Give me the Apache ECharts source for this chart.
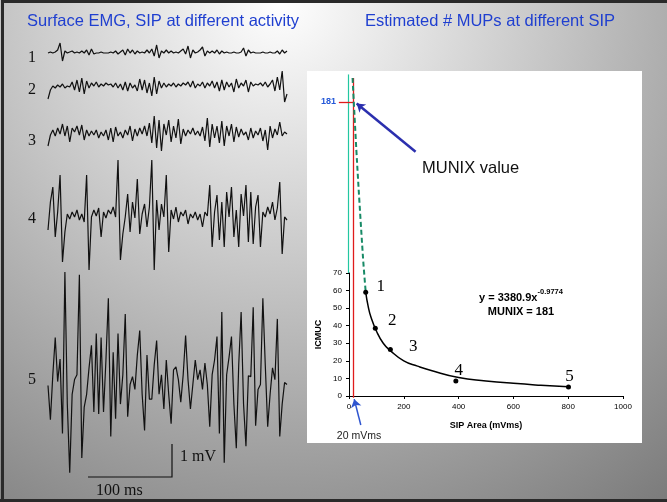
<!DOCTYPE html>
<html>
<head>
<meta charset="utf-8">
<script src="https://cdn.jsdelivr.net/npm/echarts@6.0.0/dist/echarts.min.js"></script>
<style>
  html, body { margin: 0; padding: 0; }
  #main { width: 667px; height: 502px; }
</style>
</head>
<body>
<div id="main"></div>
<script>
// MUNIX chart: SIP area (mVms) vs ICMUC
const sipArea = [61, 96, 151, 390, 801]
const icmuc = [59, 38.5, 26.4, 8.5, 5.1]
const pointNames = ['1', '2', '3', '4', '5']

// power trend line
const fitX = [61, 70, 80, 100, 125, 150, 200, 250, 300, 400, 500, 600, 700, 800]
const fitY = [59, 51, 45, 37, 30, 26, 20, 17, 14.5, 10.5, 8.6, 7.2, 6.1, 5.2]

// dashed extrapolation to 20 mVms
const extX = [13, 29, 51, 61]
const extY = [181, 134, 79, 59]

const xTicks = [0, 200, 400, 600, 800, 1000]
const yTicks = [0, 10, 20, 30, 40, 50, 60, 70]

// surface EMG traces, 100 samples each (deflection, 1 unit ~ 0.03 mV)
const trace1 = [0, 1, 0, 1, 3, 10, -8, 2, 0, 1, 2, 0, 1, 0, 2, 0, 3, -2, 4, -1, 0, 0, 1, 0, 0, 0, 1, 0, 2, -1,
  1, 3, -2, 4, 0, 3, -1, 2, 0, 1, 0, 3, 0, 4, -3, 8, -5, 2, 0, 3, 0, 2, 0, 1, 0, 2, 4, -1, 7, -5,
  3, 0, 1, 3, 6, -3, 2, 0, 2, 0, 3, -1, 2, 0, 1, 0, 0, 1, 0, 0, 1, 5, -3, 3, 0, 1, 0, 0, 0, 1,
  0, 0, 1, 0, 0, 2, -1, 3, 0, 2]
const trace2 = [-11, -2, 2, 0, 3, 1, 4, 0, 2, 1, 6, -2, 8, -4, 10, -6, 7, 0, 5, 2, 6, 1, 4, 2, 5, 3, 4, 1, 5, 0,
  4, -2, 6, -3, 5, 0, 3, -3, 9, -2, 8, -5, 5, -8, 11, -6, 7, 0, 5, 1, 4, 2, 5, 1, 4, 2, 5, 3, 6, 1,
  7, 0, 4, 2, 6, 0, 5, 2, 7, 0, 6, -3, 8, -2, 6, 1, 5, -4, 9, 0, 5, 2, 8, -4, 6, 2, 4, 3, 5, 2,
  6, 1, 4, 8, -3, 11, -2, 17, -14, -6]
const trace3 = [-8, 3, 8, 2, 10, 4, 14, 2, 12, -4, 10, 6, 12, 3, 13, -2, 8, 2, 7, 3, 8, 0, 6, 2, 8, -2, 10, -4, 11, 2,
  6, 0, 8, 3, 12, -3, 9, 2, 10, 4, 12, 2, 15, -5, 22, -10, 18, -13, 14, 3, 18, -4, 12, 0, 19, -6, 9, 2, 8, 4,
  10, 3, 7, 2, 11, -3, 20, -9, 14, 0, 12, -5, 17, -8, 12, 2, 14, -4, 11, 1, 9, 3, 6, -2, 10, 0, 7, 3, 10, -3,
  8, -12, 12, 0, 9, 3, 16, 2, 6, 4]
const trace4 = [-8, 20, 35, -15, 10, 47, -40, -10, 8, 3, 10, 5, 12, 2, 8, 0, 47, -48, 5, 12,
  6, 14, -15, 10, 4, 12, 8, 15, 5, 62, -38, -12, 5, 28, -10, 20, 4, 43, -12, 8,
  18, -5, 15, 62, -48, 22, -8, 18, 5, 47, -30, 12, 3, 15, 0, 10, 6, 12, -2, 8,
  4, 10, 2, 8, -5, 10, 6, 37, -25, 10, 27, -18, 20, -25, 30, 5, 35, -15, 12, -25,
  28, 6, 37, -20, 30, -22, 15, 27, -25, 10, 5, 15, 8, 20, 2, 14, 40, -32, 5, 2]
const trace5 = [-1, -36, 10, 48, 3, 26, -50, 115, -20, -90, -10, 5, 10, 112, -75, -23, -10, 17, 40, -28,
  52, -30, 48, -28, 25, 88, -53, 33, -35, 52, -20, 10, 72, -33, 0, 8, -5, 30, 55, -10,
  -47, 30, -15, -15, 20, 45, -10, 10, -25, 25, -10, -40, 15, 18, 5, -18, 10, 50, 5, -25,
  0, 25, 5, 15, -5, 22, 0, -43, 10, 25, 49, -50, 74, -80, 10, 28, 49, -20, -65, 20,
  74, -20, -63, 9, 8, 79, -42, -5, 0, 88, 20, -43, -10, 17, 5, 67, -53, -20, 2, 0]
const traces = [trace1, trace2, trace3, trace4, trace5]
const traceNames = ['1', '2', '3', '4', '5']

// layout (pixels)
const traceBase = [53, 88, 138, 222, 387]
const traceHalf = [20, 25, 30, 70, 120]
const traceLabelY = [58, 90, 141, 219, 380]
const labelOffsets = [[15, -6], [17, -8], [23, -3], [3, -11], [1, -11]]

const sans = '"Liberation Sans", Arial, sans-serif'
const serif = '"Liberation Serif", "Times New Roman", serif'

const chart = echarts.init(document.getElementById('main'), null, { renderer: 'canvas' })

const grids = [{ left: 349, top: 273, width: 274, height: 123 }]
const xAxes = [{
  gridIndex: 0,
  type: 'value',
  min: xTicks[0],
  max: xTicks[xTicks.length - 1],
  interval: xTicks[1] - xTicks[0],
  axisLine: { lineStyle: { color: '#000', width: 1 } },
  axisTick: { show: true, length: 3, lineStyle: { color: '#000' } },
  axisLabel: { fontSize: 8, color: '#000', margin: 7, fontFamily: sans, formatter: v => String(v) },
  splitLine: { show: false },
  name: 'SIP Area (mVms)',
  nameLocation: 'middle',
  nameGap: 25,
  nameTextStyle: { fontSize: 9, fontWeight: 'bold', color: '#000', fontFamily: sans }
}]
const yAxes = [{
  gridIndex: 0,
  type: 'value',
  min: yTicks[0],
  max: yTicks[yTicks.length - 1],
  interval: yTicks[1] - yTicks[0],
  axisLine: { show: true, lineStyle: { color: '#000', width: 1 } },
  axisTick: { show: true, length: 3, lineStyle: { color: '#000' } },
  axisLabel: { fontSize: 8, color: '#000', margin: 7, fontFamily: sans },
  splitLine: { show: false },
  name: 'ICMUC',
  nameLocation: 'middle',
  nameGap: 26,
  nameTextStyle: { fontSize: 9, fontWeight: 'bold', color: '#000', fontFamily: sans }
}]

const series = [
  {
    type: 'line',
    xAxisIndex: 0,
    yAxisIndex: 0,
    data: fitX.map((x, i) => [x, fitY[i]]),
    smooth: true,
    symbol: 'none',
    lineStyle: { color: '#000', width: 1.5 },
    z: 3
  },
  {
    type: 'line',
    xAxisIndex: 0,
    yAxisIndex: 0,
    data: extX.map((x, i) => [x, extY[i]]),
    smooth: 0.3,
    symbol: 'none',
    clip: false,
    lineStyle: { color: '#178a66', width: 2, type: [5, 3] },
    z: 3
  },
  {
    type: 'scatter',
    xAxisIndex: 0,
    yAxisIndex: 0,
    symbolSize: 5,
    itemStyle: { color: '#000', opacity: 1 },
    data: sipArea.map((x, i) => ({
      value: [x, icmuc[i]],
      name: pointNames[i],
      label: { offset: labelOffsets[i] }
    })),
    label: {
      show: true,
      position: 'inside',
      formatter: '{b}',
      fontFamily: serif,
      fontSize: 17,
      color: '#000'
    },
    z: 4
  },
  // annotation segments: teal axis extension, red 20 mVms marker and tick
  {
    type: 'lines',
    coordinateSystem: 'cartesian2d',
    xAxisIndex: 0,
    yAxisIndex: 0,
    clip: false,
    symbol: 'none',
    data: [
      { coords: [[-2, 70], [-2, 183]], lineStyle: { color: '#22c7a0', width: 1.2, opacity: 1 } },
      { coords: [[15, -1], [15, 181]], lineStyle: { color: '#e01b1b', width: 1.3, opacity: 1 } },
      { coords: [[-37, 167], [15, 167]], lineStyle: { color: '#e01b1b', width: 1.3, opacity: 1 } }
    ],
    z: 2
  },
  {
    type: 'lines',
    coordinateSystem: 'cartesian2d',
    xAxisIndex: 0,
    yAxisIndex: 0,
    clip: false,
    symbol: ['none', 'arrow'],
    symbolSize: 8,
    data: [
      { coords: [[243, 139], [28, 166.5]], lineStyle: { color: '#2b2fae', width: 2.5, opacity: 1 } },
      { coords: [[43, -16.5], [19, -1.8]], lineStyle: { color: '#2f55cf', width: 1.5, opacity: 1 } }
    ],
    z: 5
  }
]

traces.forEach((tr, k) => {
  const idx = k + 1
  grids.push({ left: 48, width: 239, top: traceBase[k] - traceHalf[k], height: traceHalf[k] * 2 })
  xAxes.push({ gridIndex: idx, type: 'value', min: 0, max: tr.length - 1, show: false })
  yAxes.push({ gridIndex: idx, type: 'value', min: -traceHalf[k], max: traceHalf[k], show: false })
  series.push({
    type: 'line',
    xAxisIndex: idx,
    yAxisIndex: idx,
    data: tr.map((v, i) => [i, v]),
    symbol: 'none',
    clip: false,
    lineStyle: { color: '#111', width: 1.2 }
  })
})

const graphics = [
  {
    type: 'rect',
    z: -20,
    shape: { x: 0, y: 0, width: 667, height: 502 },
    style: {
      fill: {
        type: 'radial', x: 0.42, y: 0.0, r: 1.26,
        colorStops: [{ offset: 0, color: '#ffffff' }, { offset: 1, color: '#7b7b7b' }]
      }
    }
  },
  { type: 'rect', z: -10, shape: { x: 307, y: 71, width: 335, height: 372 }, style: { fill: '#ffffff' } },
  { type: 'polyline', z: 10, shape: { points: [[2.5, 502], [2.5, 1.5], [667, 1.5]] }, style: { stroke: '#2a2a2a', lineWidth: 3, fill: null } },
  { type: 'line', z: 10, shape: { x1: 0, y1: 500.5, x2: 667, y2: 500.5 }, style: { stroke: '#2a2a2a', lineWidth: 3 } },
  { type: 'text', z: 10, style: { text: 'Surface EMG, SIP at different activity', x: 27, y: 21, textVerticalAlign: 'middle', font: '16.5px ' + sans, fill: '#1f3fd0' } },
  { type: 'text', z: 10, style: { text: 'Estimated # MUPs at different SIP', x: 365, y: 21, textVerticalAlign: 'middle', font: '16.5px ' + sans, fill: '#1f3fd0' } },
  // scale bar
  { type: 'polyline', z: 10, shape: { points: [[88, 477], [172, 477], [172, 444]] }, style: { stroke: '#111', lineWidth: 1.2, fill: null } },
  { type: 'text', z: 10, style: { text: '1 mV', x: 180, y: 457, textVerticalAlign: 'middle', font: '16px ' + serif, fill: '#111' } },
  { type: 'text', z: 10, style: { text: '100 ms', x: 96, y: 491, textVerticalAlign: 'middle', font: '16px ' + serif, fill: '#111' } },
  // chart annotations
  { type: 'text', z: 10, style: { text: '181', x: 336, y: 102, textAlign: 'right', textVerticalAlign: 'middle', font: 'bold 9px ' + sans, fill: '#2458d8' } },
  { type: 'text', z: 10, style: { text: 'MUNIX value', x: 422, y: 168, textVerticalAlign: 'middle', font: '16.5px ' + sans, fill: '#111' } },
  { type: 'text', z: 10, style: { text: '20 mVms', x: 359, y: 436, textAlign: 'center', textVerticalAlign: 'middle', font: '10.5px ' + sans, fill: '#222' } },
  { type: 'text', z: 10, style: { text: 'y = 3380.9x', x: 479, y: 298, textVerticalAlign: 'middle', font: 'bold 11px ' + sans, fill: '#000' } },
  { type: 'text', z: 10, style: { text: '-0.9774', x: 537.5, y: 292, textVerticalAlign: 'middle', font: 'bold 7.5px ' + sans, fill: '#000' } },
  { type: 'text', z: 10, style: { text: 'MUNIX = 181', x: 521, y: 312, textAlign: 'center', textVerticalAlign: 'middle', font: 'bold 11px ' + sans, fill: '#000' } }
]

traceNames.forEach((t, k) => {
  graphics.push({
    type: 'text', z: 10,
    style: { text: t, x: 32, y: traceLabelY[k], textAlign: 'center', textVerticalAlign: 'middle', font: '16px ' + serif, fill: '#111' }
  })
})

chart.setOption({
  animation: false,
  grid: grids,
  xAxis: xAxes,
  yAxis: yAxes,
  series: series,
  graphic: { elements: graphics }
})
</script>
</body>
</html>
